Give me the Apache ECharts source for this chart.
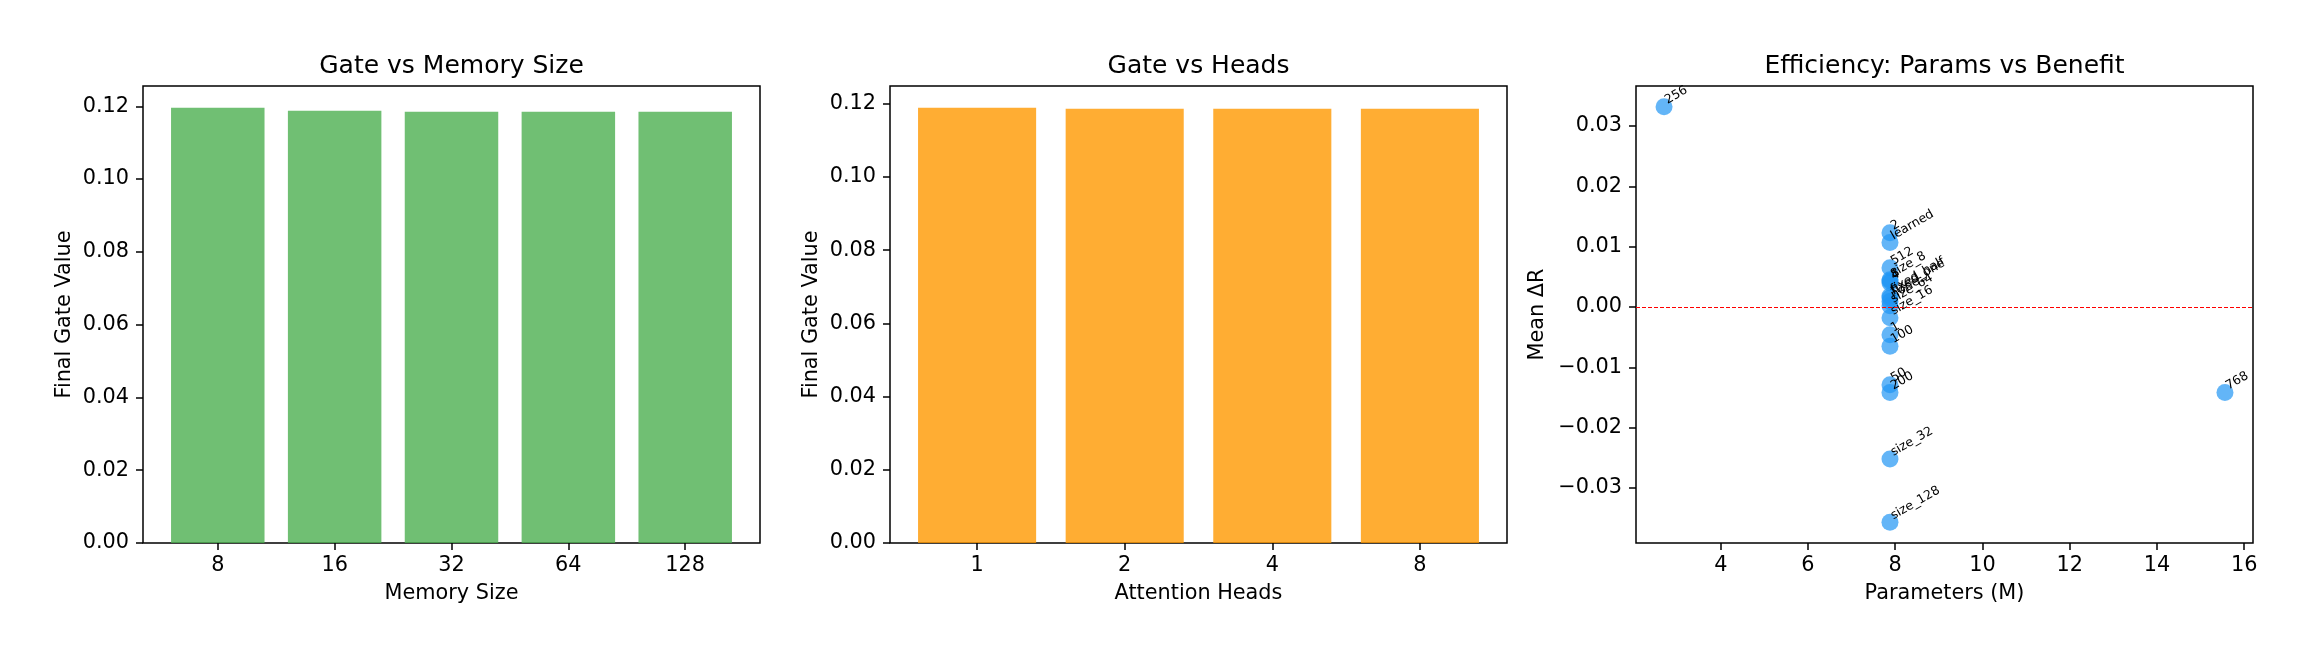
<!DOCTYPE html>
<html>
<head>
<meta charset="utf-8">
<script src="https://cdn.jsdelivr.net/npm/echarts@6/dist/echarts.min.js"></script>
<style>
html,body{margin:0;padding:0;background:#fff;}
#chart{width:2313px;height:661px;}
</style>
</head>
<body>
<div id="chart"></div>
<script>
// ---- data ----
const memCats = ['8', '16', '32', '64', '128'];
const memGate = [0.1196, 0.1188, 0.1185, 0.1185, 0.1185];
const headCats = ['1', '2', '4', '8'];
const headGate = [0.1189, 0.1186, 0.1186, 0.1186];
const gateTicks = [0, 0.02, 0.04, 0.06, 0.08, 0.10, 0.12];

const scatterNames = ['256', '768', '2', 'learned', '512', 'size_8', '8', '4',
  'fixed_half', 'fixed_one', 'none', 'size_64', 'size_16', '1', '100', '50', '200', 'size_32', 'size_128'];
const scatterParams = [2.70, 15.56, 7.88, 7.88, 7.88, 7.88, 7.88, 7.88,
  7.88, 7.88, 7.88, 7.88, 7.88, 7.88, 7.88, 7.88, 7.88, 7.88, 7.88];
const scatterDelta = [0.0332, -0.0142, 0.0123, 0.0107, 0.0065, 0.0045, 0.0043, 0.0040,
  0.0018, 0.0015, 0.0009, 0.0002, -0.0018, -0.0046, -0.0065, -0.0129, -0.0142, -0.0252, -0.0357];
const paramTicks = [4, 6, 8, 10, 12, 14, 16];
const deltaTicks = [-0.03, -0.02, -0.01, 0, 0.01, 0.02, 0.03];

// ---- chart ----
const FONT = 'DejaVu Sans';
const TICK_FS = 20.8;
const chart = echarts.init(document.getElementById('chart'), null, {renderer: 'canvas'});

const gridBase = {top: 86, width: 617, height: 457, show: true, borderColor: '#000', borderWidth: 1.5, backgroundColor: 'transparent'};
const tickStyle = {show: true, length: 7, lineStyle: {color: '#000', width: 1.5}};
const labelStyle = {color: '#000', fontFamily: FONT, fontSize: TICK_FS};
const nameStyle = {color: '#000', fontFamily: FONT, fontSize: TICK_FS};
const hiddenLine = {show: false, onZero: false};

function catXAxis(gridIndex, cats, name) {
  const idx = cats.map((c, i) => i);
  return {
    type: 'value', gridIndex: gridIndex,
    min: -0.4 - 0.05 * (cats.length - 0.2), max: cats.length - 0.6 + 0.05 * (cats.length - 0.2),
    axisLine: hiddenLine, splitLine: {show: false},
    axisTick: Object.assign({customValues: idx}, tickStyle),
    axisLabel: Object.assign({customValues: idx, margin: 12, formatter: v => cats[Math.round(v)]}, labelStyle),
    name: name, nameLocation: 'middle', nameGap: 40, nameTextStyle: nameStyle
  };
}
function gateYAxis(gridIndex, maxVal) {
  return {
    type: 'value', gridIndex: gridIndex, min: 0, max: maxVal * 1.05,
    axisLine: hiddenLine, splitLine: {show: false},
    axisTick: Object.assign({customValues: gateTicks}, tickStyle),
    axisLabel: Object.assign({customValues: gateTicks, margin: 14, formatter: v => v.toFixed(2)}, labelStyle),
    name: 'Final Gate Value', nameLocation: 'middle', nameGap: 68, nameTextStyle: nameStyle
  };
}
const titleStyle = {color: '#000', fontFamily: FONT, fontSize: 25, fontWeight: 'normal'};

const dMax = Math.max(...scatterDelta), dMin = Math.min(...scatterDelta);
const pMax = Math.max(...scatterParams), pMin = Math.min(...scatterParams);

const option = {
  animation: false,
  backgroundColor: '#fff',
  title: [
    {text: 'Gate vs Memory Size', left: 143 + 308.5, top: 54, textAlign: 'center', padding: 0, textStyle: titleStyle},
    {text: 'Gate vs Heads', left: 890 + 308.5, top: 54, textAlign: 'center', padding: 0, textStyle: titleStyle},
    {text: 'Efficiency: Params vs Benefit', left: 1636 + 308.5, top: 54, textAlign: 'center', padding: 0, textStyle: titleStyle}
  ],
  grid: [
    Object.assign({left: 143}, gridBase),
    Object.assign({left: 890}, gridBase),
    Object.assign({left: 1636}, gridBase)
  ],
  xAxis: [
    catXAxis(0, memCats, 'Memory Size'),
    catXAxis(1, headCats, 'Attention Heads'),
    {
      type: 'value', gridIndex: 2,
      min: pMin - 0.05 * (pMax - pMin), max: pMax + 0.05 * (pMax - pMin),
      axisLine: hiddenLine, splitLine: {show: false},
      axisTick: Object.assign({customValues: paramTicks}, tickStyle),
      axisLabel: Object.assign({customValues: paramTicks, margin: 12, formatter: v => String(Math.round(v))}, labelStyle),
      name: 'Parameters (M)', nameLocation: 'middle', nameGap: 40, nameTextStyle: nameStyle
    }
  ],
  yAxis: [
    gateYAxis(0, Math.max(...memGate)),
    gateYAxis(1, Math.max(...headGate)),
    {
      type: 'value', gridIndex: 2,
      min: dMin - 0.05 * (dMax - dMin), max: dMax + 0.05 * (dMax - dMin),
      axisLine: hiddenLine, splitLine: {show: false},
      axisTick: Object.assign({customValues: deltaTicks}, tickStyle),
      axisLabel: Object.assign({customValues: deltaTicks, margin: 14,
        formatter: v => v.toFixed(2).replace('-', '\u2212').replace('\u22120.00', '0.00')}, labelStyle),
      name: 'Mean \u0394R', nameLocation: 'middle', nameGap: 88, nameTextStyle: nameStyle
    }
  ],
  series: [
    {
      type: 'bar', xAxisIndex: 0, yAxisIndex: 0, barWidth: '80%',
      itemStyle: {color: 'rgba(76,175,80,0.8)'},
      data: memCats.map((c, i) => [i, memGate[i]])
    },
    {
      type: 'bar', xAxisIndex: 1, yAxisIndex: 1, barWidth: '80%',
      itemStyle: {color: 'rgba(255,152,0,0.8)'},
      data: headCats.map((c, i) => [i, headGate[i]])
    },
    {
      type: 'scatter', xAxisIndex: 2, yAxisIndex: 2, symbolSize: 17,
      itemStyle: {color: 'rgba(33,150,243,0.7)', opacity: 1},
      label: {
        show: true, formatter: p => p.name, position: ['80%', '50%'],
        align: 'left', verticalAlign: 'bottom', rotate: 30,
        color: '#000', opacity: 1, fontFamily: FONT, fontSize: 12.5
      },
      emphasis: {disabled: true},
      labelLayout: {hideOverlap: false},
      data: scatterNames.map((n, i) => ({name: n, value: [scatterParams[i], scatterDelta[i]]})),
      markLine: {
        silent: true, symbol: 'none', animation: false,
        label: {show: false},
        lineStyle: {color: 'red', type: [4, 2], width: 1, opacity: 1},
        data: [{yAxis: 0}]
      }
    }
  ]
};
chart.setOption(option);
</script>
</body>
</html>
